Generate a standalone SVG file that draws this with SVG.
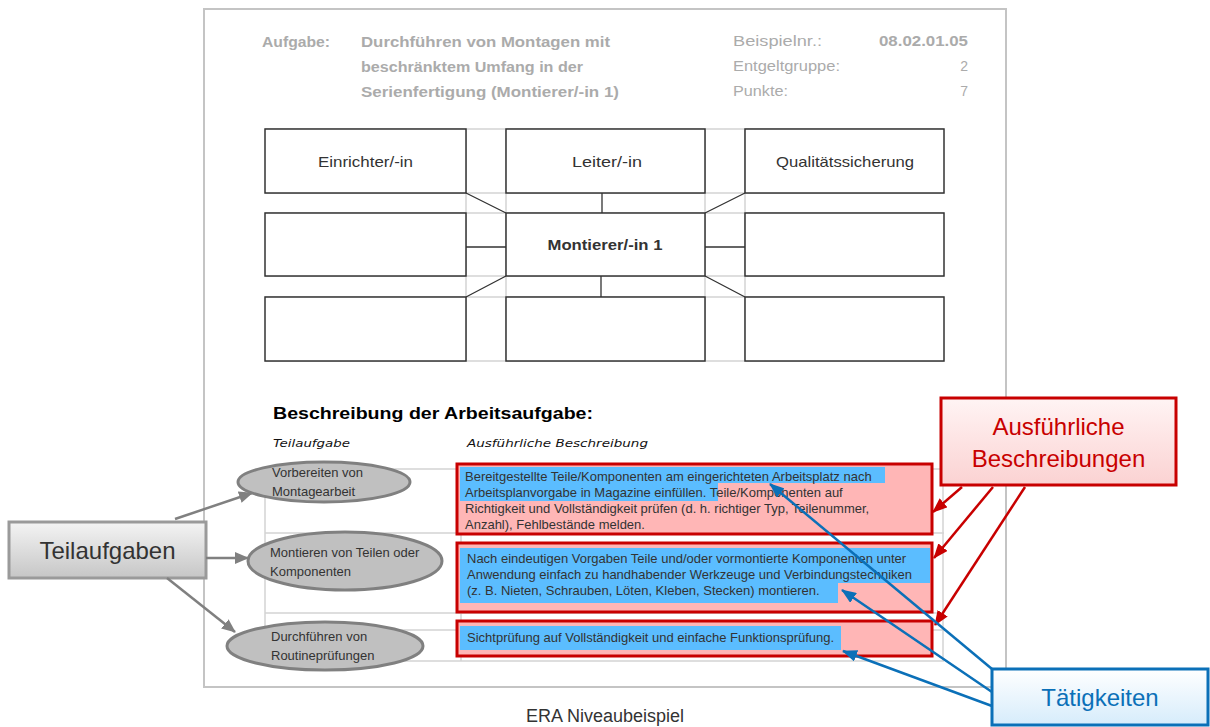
<svg xmlns="http://www.w3.org/2000/svg" width="1210" height="727" viewBox="0 0 1210 727">
<style>
.hd{font-family:"Liberation Sans",Arial,sans-serif;font-size:14px;fill:#ababab}
.hb{font-weight:bold}
.ob{fill:#fff;stroke:#333;stroke-width:1.5}
.grid{stroke:#d4d4d4;stroke-width:1.5;fill:none}
.con{stroke:#333;stroke-width:1.3;fill:none}
.ot{font-family:"Liberation Sans",Arial,sans-serif;font-size:15px;fill:#333;text-anchor:middle}
.bt{font-family:"Liberation Sans",Arial,sans-serif;font-size:13px;fill:#333}
.rb{fill:#ffb6b6;stroke:#c80000;stroke-width:3}
.hl{fill:#5bbdff}
.el{fill:#c0c0c0;stroke:#808080;stroke-width:3}
.it{font-family:"DejaVu Sans",Verdana,sans-serif;font-style:italic;font-size:11px;fill:#111}
.big{font-family:"Liberation Sans",Arial,sans-serif;font-size:24px;text-anchor:middle}
</style>
<defs>
<linearGradient id="gG" x1="0" y1="0" x2="0" y2="1"><stop offset="0" stop-color="#f4f4f4"/><stop offset="1" stop-color="#c6c6c6"/></linearGradient>
<linearGradient id="gR" x1="0" y1="0" x2="0" y2="1"><stop offset="0" stop-color="#fff4f4"/><stop offset="1" stop-color="#fbd2d2"/></linearGradient>
<linearGradient id="gB" x1="0" y1="0" x2="0" y2="1"><stop offset="0" stop-color="#ffffff"/><stop offset="1" stop-color="#d6ecfb"/></linearGradient>
<marker id="ag" markerUnits="userSpaceOnUse" markerWidth="14" markerHeight="12" refX="13" refY="6" orient="auto"><path d="M0,0 L14,6 L0,12 z" fill="#808080"/></marker>
<marker id="ar" markerUnits="userSpaceOnUse" markerWidth="15" markerHeight="12" refX="14" refY="6" orient="auto"><path d="M0,0 L15,6 L0,12 z" fill="#c80000"/></marker>
<marker id="ab" markerUnits="userSpaceOnUse" markerWidth="15" markerHeight="12" refX="14" refY="6" orient="auto"><path d="M0,0 L15,6 L0,12 z" fill="#0b70b8"/></marker>
</defs>
<rect width="1210" height="727" fill="#fff"/>
<rect x="204" y="9" width="802" height="678" fill="#fff" stroke="#c4c4c4" stroke-width="2"/>

<g id="header">
<text class="hd hb" x="262" y="47" textLength="68" lengthAdjust="spacingAndGlyphs">Aufgabe:</text>
<text class="hd hb" x="361" y="47" textLength="249" lengthAdjust="spacingAndGlyphs">Durchführen von Montagen mit</text>
<text class="hd hb" x="361" y="72" textLength="222" lengthAdjust="spacingAndGlyphs">beschränktem Umfang in der</text>
<text class="hd hb" x="361" y="97" textLength="258" lengthAdjust="spacingAndGlyphs">Serienfertigung (Montierer/-in 1)</text>
<text class="hd" x="733" y="46" textLength="89" lengthAdjust="spacingAndGlyphs">Beispielnr.:</text>
<text class="hd" x="733" y="71" textLength="107" lengthAdjust="spacingAndGlyphs">Entgeltgruppe:</text>
<text class="hd" x="733" y="96" textLength="55" lengthAdjust="spacingAndGlyphs">Punkte:</text>
<text class="hd hb" x="879" y="46" textLength="89" lengthAdjust="spacingAndGlyphs">08.02.01.05</text>
<text class="hd" x="968" y="71" text-anchor="end" font-size="15">2</text>
<text class="hd" x="968" y="96" text-anchor="end" font-size="15">7</text>
</g>

<g id="org-grid">
<path class="grid" d="M265,129H944M265,193H944M265,213H944M265,276H944M265,297H944M265,361H944M466,129V361M506,129V361M705,129V361M745,129V361"/>
</g>

<g id="org-connectors">
<path class="con" d="M466,193L506,213M602,193V213M745,193L705,213M466,247H506M705,247H745M506,276L466,297M601,276V297M705,276L745,297"/>
</g>

<g id="node-einrichter"><rect class="ob" x="265" y="129" width="201" height="64"/><text class="ot" x="365.5" y="167" textLength="95" lengthAdjust="spacingAndGlyphs">Einrichter/-in</text></g>
<g id="node-leiter"><rect class="ob" x="506" y="129" width="199" height="64"/><text class="ot" x="607" y="167" textLength="70" lengthAdjust="spacingAndGlyphs">Leiter/-in</text></g>
<g id="node-qs"><rect class="ob" x="745" y="129" width="199" height="64"/><text class="ot" x="845" y="167" textLength="138" lengthAdjust="spacingAndGlyphs">Qualitätssicherung</text></g>
<g id="node-ml"><rect class="ob" x="265" y="213" width="201" height="63"/></g>
<g id="node-montierer"><rect class="ob" x="506" y="213" width="199" height="63"/><text class="ot" x="605" y="250" font-weight="bold" textLength="115" lengthAdjust="spacingAndGlyphs">Montierer/-in 1</text></g>
<g id="node-mr"><rect class="ob" x="745" y="213" width="199" height="63"/></g>
<g id="node-bl"><rect class="ob" x="265" y="297" width="201" height="64"/></g>
<g id="node-bm"><rect class="ob" x="506" y="297" width="199" height="64"/></g>
<g id="node-br"><rect class="ob" x="745" y="297" width="199" height="64"/></g>

<g id="description-head">
<text x="273" y="419" font-family="'Liberation Sans',Arial,sans-serif" font-size="17" font-weight="bold" fill="#000" textLength="320" lengthAdjust="spacingAndGlyphs">Beschreibung der Arbeitsaufgabe:</text>
<text class="it" x="273" y="447" textLength="77" lengthAdjust="spacingAndGlyphs">Teilaufgabe</text>
<text class="it" x="467" y="447" textLength="181" lengthAdjust="spacingAndGlyphs">Ausführliche Beschreibung</text>
</g>

<g id="table-grid">
<path class="grid" d="M265,469H944M265,533H944M265,613H944M265,630H944M265,661H944M265,469V661M461,469V661M943,469V661"/>
</g>

<g id="desc-1">
<rect class="rb" x="457" y="464" width="475" height="70"/>
<rect class="hl" x="460" y="467" width="425" height="16"/>
<rect class="hl" x="460" y="483" width="258" height="18"/>
<text class="bt" x="465" y="481">Bereitgestellte Teile/Komponenten am eingerichteten Arbeitsplatz nach</text>
<text class="bt" x="465" y="497">Arbeitsplanvorgabe in Magazine einfüllen. Teile/Komponenten auf</text>
<text class="bt" x="465" y="513">Richtigkeit und Vollständigkeit prüfen (d. h. richtiger Typ, Teilenummer,</text>
<text class="bt" x="465" y="529">Anzahl), Fehlbestände melden.</text>
</g>
<g id="desc-2">
<rect class="rb" x="457" y="543" width="475" height="69"/>
<rect class="hl" x="460" y="548" width="470" height="35"/>
<rect class="hl" x="460" y="583" width="378" height="20"/>
<text class="bt" x="467" y="563">Nach eindeutigen Vorgaben Teile und/oder vormontierte Komponenten unter</text>
<text class="bt" x="467" y="579">Anwendung einfach zu handhabender Werkzeuge und Verbindungstechniken</text>
<text class="bt" x="467" y="595">(z. B. Nieten, Schrauben, Löten, Kleben, Stecken) montieren.</text>
</g>
<g id="desc-3">
<rect class="rb" x="457" y="621" width="475" height="35"/>
<rect class="hl" x="460" y="626" width="381" height="24"/>
<text class="bt" x="467" y="642">Sichtprüfung auf Vollständigkeit und einfache Funktionsprüfung.</text>
</g>

<g id="task-1"><ellipse class="el" cx="324" cy="482" rx="86" ry="20"/><text class="bt" x="272" y="477">Vorbereiten von</text><text class="bt" x="272" y="496">Montagearbeit</text></g>
<g id="task-2"><ellipse class="el" cx="345" cy="561" rx="97" ry="29"/><text class="bt" x="270" y="557">Montieren von Teilen oder</text><text class="bt" x="270" y="576">Komponenten</text></g>
<g id="task-3"><ellipse class="el" cx="325" cy="646" rx="98" ry="24"/><text class="bt" x="271" y="641">Durchführen von</text><text class="bt" x="271" y="660">Routineprüfungen</text></g>

<g id="label-teilaufgaben"><rect x="9" y="522" width="197" height="56" fill="url(#gG)" stroke="#9a9a9a" stroke-width="3"/><text class="big" x="107.5" y="559" fill="#333">Teilaufgaben</text></g>
<g id="label-ausfuehrlich"><rect x="941" y="398" width="235" height="87" fill="url(#gR)" stroke="#c80000" stroke-width="3"/><text class="big" x="1058.5" y="435" fill="#c80000">Ausführliche</text><text class="big" x="1058.5" y="467" fill="#c80000">Beschreibungen</text></g>
<g id="label-taetigkeiten"><rect x="992" y="669" width="216" height="56" fill="url(#gB)" stroke="#0b70b8" stroke-width="3"/><text class="big" x="1100" y="706" fill="#0b70b8">Tätigkeiten</text></g>

<g id="connectors">
<g stroke="#808080" stroke-width="2.5" fill="none">
<line x1="175" y1="519" x2="252" y2="493" marker-end="url(#ag)"/>
<line x1="206" y1="558" x2="248" y2="558" marker-end="url(#ag)"/>
<line x1="167" y1="578" x2="235" y2="632" marker-end="url(#ag)"/>
</g>
<g stroke="#c80000" stroke-width="2.5" fill="none">
<line x1="962" y1="487" x2="933" y2="512" marker-end="url(#ar)"/>
<line x1="993" y1="487" x2="934" y2="558" marker-end="url(#ar)"/>
<line x1="1025" y1="487" x2="935" y2="625" marker-end="url(#ar)"/>
</g>
<g stroke="#0b70b8" stroke-width="2.5" fill="none">
<line x1="992" y1="669" x2="770" y2="484" marker-end="url(#ab)"/>
<line x1="992" y1="692" x2="842" y2="590" marker-end="url(#ab)"/>
<line x1="992" y1="706" x2="843" y2="651" marker-end="url(#ab)"/>
</g>
</g>

<text x="605" y="722" font-family="'Liberation Sans',Arial,sans-serif" font-size="18" fill="#333" text-anchor="middle">ERA Niveaubeispiel</text>
</svg>
